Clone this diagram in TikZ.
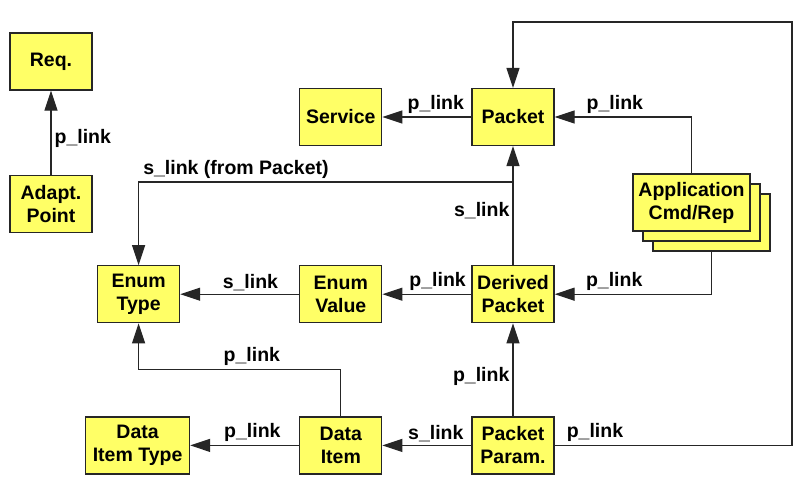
\documentclass[tikz,border=0pt]{standalone}
\usepackage{fontspec}
\setmainfont{Liberation Sans}
\usetikzlibrary{positioning, arrows.meta}
\definecolor{boxyellow}{RGB}{255,255,102}

\begin{document}
\begin{tikzpicture}[x=1pt, y=-1pt, font=\fontsize{19.5}{23}\selectfont\bfseries,
        box/.style={draw=black!85, line width=1.2pt, fill=boxyellow, align=center,
            minimum width=82pt, minimum height=57pt, inner sep=2pt},
        link/.style={draw=black!85, line width=1.2pt, -{Triangle[length=20pt,width=13pt]}},
        lbl/.style={inner sep=3pt}]
        \useasboundingbox (0,0) rectangle (805,482);

        \node[box] (Req) at (51,61.5) {Req.};
        \node[box] (Adapt) [below=84pt of Req] {Adapt.\\Point};

        \node[box] (Packet) at (513,117) {Packet};
        \node[box] (Service) [left=89pt of Packet] {Service};

        % stacked application boxes
        \node[box, minimum width=117pt] (App3) at (711.5,222.5) {};
        \node[box, minimum width=117pt] (App2) at (701.5,212.5) {};
        \node[box, minimum width=117pt] (App) at (691.5,202.5) {Application\\Cmd/Rep};

        \node[box] (Derived) [below=119pt of Packet] {Derived\\Packet};
        \node[box] (EnumValue) [left=89pt of Derived] {Enum\\Value};
        \node[box] (EnumType) [left=119pt of EnumValue] {Enum\\Type};

        \node[box] (PktParam) [below=93pt of Derived] {Packet\\Param.};
        \node[box] (DataItem) [left=89pt of PktParam] {Data\\Item};
        \node[box, minimum width=104pt] (DataItemType) [left=109pt of DataItem] {Data\\Item Type};

        \coordinate (fromPkt) at (513,182);
        \coordinate (loopX) at (792,0);
        \coordinate (loopT) at (513,22);

        \draw[link] (Adapt) -- node[lbl,right,pos=0.43] {p\_link} (Req);
        \draw[link] (Packet) -- node[lbl,above,pos=0.4] {p\_link} (Service);
        \draw[link] (App.north) |- node[lbl,above,pos=0.78] {p\_link} (Packet);
        \draw[link] (Derived) -- node[lbl,left,pos=0.46] {s\_link} (Packet);
        \draw[link] (fromPkt) -| node[lbl,above,pos=0.37] {s\_link (from Packet)} (EnumType);

        \draw[link] (EnumValue) -- node[lbl,above,pos=0.41] {s\_link} (EnumType);
        \draw[link] (Derived) -- node[lbl,above,pos=0.38] {p\_link} (EnumValue);
        \draw[link] (App3.south) |- node[lbl,above,pos=0.81] {p\_link} (Derived);

        \draw[link] (PktParam) -- node[lbl,left,pos=0.43] {p\_link} (Derived);
        \draw[link] (PktParam) -- node[lbl,above,pos=0.4] {s\_link} (DataItem);
        \draw[link] (DataItem) -- node[lbl,above,pos=0.43] {p\_link} (DataItemType);
        \draw[link] (DataItem.north) -- ++(0,-47) -| node[lbl,above,pos=0.22] {p\_link} (EnumType);

        \draw[link] (PktParam) -- node[lbl,above,pos=0.17] {p\_link} (PktParam -| loopX) |- (loopT) -- (Packet);

    \end{tikzpicture}
\end{document}
